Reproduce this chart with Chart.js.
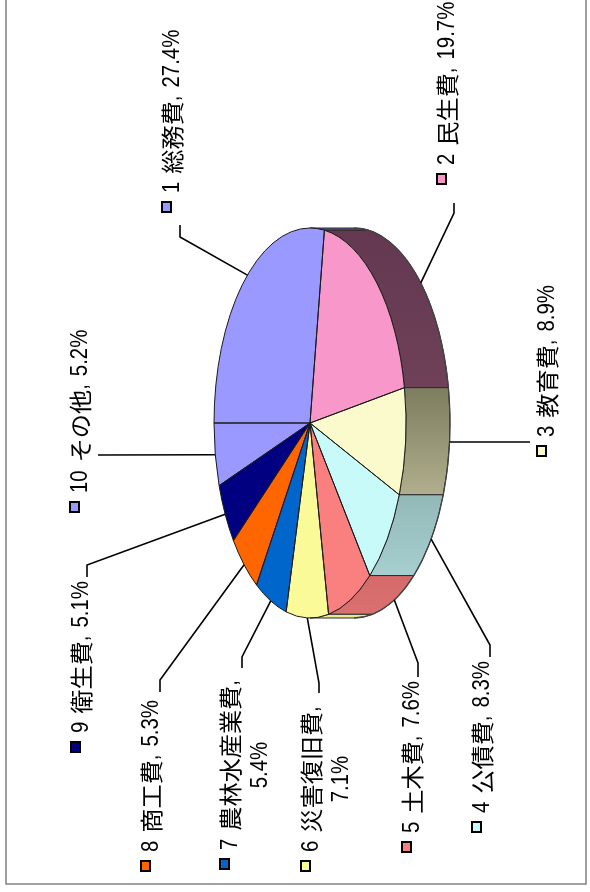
<!DOCTYPE html>
<html><head><meta charset="utf-8">
<script src="https://cdn.jsdelivr.net/npm/chart.js@4/dist/chart.umd.min.js"></script>
<style>html,body{margin:0;padding:0;background:#fff;}canvas{display:block;}</style>
</head><body>
<canvas id="c" width="590" height="892"></canvas>
<script>
// ---- data ----
const numbers = ['1','2','3','4','5','6','7','8','9','10'];
const categories = ['総務費','民生費','教育費','公債費','土木費','災害復旧費','農林水産業費','商工費','衛生費','その他'];
const shares = [27.4, 19.7, 8.9, 8.3, 7.6, 7.1, 5.4, 5.3, 5.1, 5.2];
const twoLine = [false,false,false,false,false,true,true,false,false,false];

// ---- styles ----
const faceColors = ['#9999FF','#F898CA','#FAFACC','#C8FAFA','#FA8080','#FAFA98','#0066CC','#FF6600','#000080','#9999FF'];
const sideTop    = ['#5c5c99','#633850','#7d7d5f','#93b8b8','#d66a6a','#e8e68a','#004080','#c05000','#000050','#5c5c99'];
const sideBottom = ['#5c5c99','#6f4159','#b0ae8c','#a6cfcf','#da7070','#eceb90','#004080','#c05000','#000050','#5c5c99'];
// label layout (page coords): column centre x, marker bottom y, leader elbow, leader end
const labelLayout = [
  {x:172, y:213, elbow:[180,237], end:[180,225]},
  {x:447, y:185, elbow:[454,213], end:[454,203]},
  {x:547, y:457, elbow:null,      end:[530,442]},
  {x:482, y:833, elbow:[490,645], end:[490,657]},
  {x:412, y:853, elbow:[418,663], end:[418,677]},
  {x:311, y:872, elbow:[319,683], end:[319,693]},
  {x:230, y:870, elbow:[242,657], end:[242,668]},
  {x:151, y:872, elbow:[160,680], end:[160,692]},
  {x:81,  y:753, elbow:[87,565],  end:[87,577]},
  {x:80,  y:513, elbow:null,      end:[98,455]}
];
const SQUASH = 96/195;   // ellipse x/y ratio
const DEPTH = 44;         // thickness of the pie side
const FONT_LAT = '24px "Liberation Sans", sans-serif';
const FONT_CJK = '23px "Noto Sans CJK JP", sans-serif';
const SX_LAT = 0.85, SX_CJK = 1.05, SPACE_W = 8;

function labelText(i){
  const pct = shares[i].toFixed(1) + '%';
  if (twoLine[i]) return [numbers[i] + ' ' + categories[i] + ',', pct];
  return [numbers[i] + ' ' + categories[i] + ', ' + pct];
}
function segs(text){
  const out = [];
  for (const ch of text){
    const kind = ch === ' ' ? 'sp' : (ch.codePointAt(0) > 0x2E7F ? 'cjk' : 'lat');
    if (out.length && out[out.length-1].kind === kind) out[out.length-1].t += ch;
    else out.push({t: ch, kind});
  }
  return out;
}
function runWidth(ctx, s){
  if (s.kind === 'sp') return SPACE_W * s.t.length;
  ctx.font = s.kind === 'cjk' ? FONT_CJK : FONT_LAT;
  return ctx.measureText(s.t).width * (s.kind === 'cjk' ? SX_CJK : SX_LAT);
}
function textWidth(ctx, text){ return segs(text).reduce((a, s) => a + runWidth(ctx, s), 0); }
function drawMixed(ctx, text, x, y){
  let px = x;
  for (const s of segs(text)){
    const w = runWidth(ctx, s);
    if (s.kind !== 'sp') {
      ctx.save();
      ctx.translate(px, y); ctx.scale(s.kind === 'cjk' ? SX_CJK : SX_LAT, 1);
      ctx.fillText(s.t, 0, 0);
      ctx.restore();
    }
    px += w;
  }
}

const pie3d = {
  id: 'pie3d',
  beforeDatasetsDraw(chart){
    const ctx = chart.ctx;
    const meta = chart.getDatasetMeta(0);
    const a0 = meta.data[0];
    const cx = a0.x, cy = a0.y, R = a0.outerRadius;
    const rx = R*SQUASH, ry = R;
    const vis0 = 1.5*Math.PI, vis1 = 2.5*Math.PI;
    meta.data.forEach((arc, i) => {
      const s = Math.max(arc.startAngle, vis0), e = Math.min(arc.endAngle, vis1);
      if (e <= s) return;
      const yt = cy + ry*Math.sin(s), yb = cy + ry*Math.sin(e);
      const g = ctx.createLinearGradient(0, yt, 0, Math.max(yb, yt+1));
      g.addColorStop(0, sideTop[i]); g.addColorStop(1, sideBottom[i]);
      ctx.beginPath();
      ctx.ellipse(cx, cy, rx, ry, 0, s, e, false);
      ctx.ellipse(cx+DEPTH, cy, rx, ry, 0, e, s, true);
      ctx.closePath();
      ctx.fillStyle = g; ctx.fill();
      ctx.strokeStyle = '#2a2a2a'; ctx.lineWidth = 1; ctx.stroke();
    });
    ctx.save();
    ctx.translate(cx, cy); ctx.scale(SQUASH, 1); ctx.translate(-cx, -cy);
  },
  afterDatasetsDraw(chart){
    const ctx = chart.ctx;
    ctx.restore();
    const meta = chart.getDatasetMeta(0);
    const a0 = meta.data[0];
    const cx = a0.x, cy = a0.y, R = a0.outerRadius;
    const rx = R*SQUASH, ry = R;
    // slice outlines
    ctx.strokeStyle = '#1a1a1a'; ctx.lineWidth = 1;
    meta.data.forEach(arc => {
      ctx.beginPath();
      ctx.moveTo(cx, cy);
      ctx.ellipse(cx, cy, rx, ry, 0, arc.startAngle, arc.endAngle, false);
      ctx.closePath();
      ctx.stroke();
    });
    // outer silhouette of the side
    ctx.strokeStyle = '#444'; ctx.lineWidth = 1.3;
    ctx.beginPath();
    ctx.ellipse(cx+DEPTH, cy, rx, ry, 0, 1.5*Math.PI, 2.5*Math.PI, false);
    ctx.stroke();
    // leader lines + labels
    meta.data.forEach((arc, i) => {
      const L = labelLayout[i];
      const mid = (arc.startAngle + arc.endAngle)/2;
      const c = Math.cos(mid);
      const px = cx + rx*c + (c > 0 ? DEPTH : 0), py = cy + ry*Math.sin(mid);
      ctx.strokeStyle = '#000'; ctx.lineWidth = 1.6;
      ctx.beginPath();
      ctx.moveTo(px, py);
      if (L.elbow) ctx.lineTo(L.elbow[0], L.elbow[1]);
      ctx.lineTo(L.end[0], L.end[1]);
      ctx.stroke();
      // label, rotated so that it reads bottom-to-top
      const lines = labelText(i);
      ctx.save();
      ctx.translate(L.x, L.y);
      ctx.rotate(-Math.PI/2);
      // legend key
      ctx.fillStyle = '#000';
      ctx.fillRect(0, -11, 12, 11);
      ctx.fillStyle = faceColors[i];
      ctx.fillRect(2, -9, 8, 7);
      ctx.fillStyle = '#000';
      ctx.textBaseline = 'middle';
      ctx.textAlign = 'left';
      const x0 = 20;
      const w1 = textWidth(ctx, lines[0]);
      drawMixed(ctx, lines[0], x0, 0);
      if (lines[1]) {
        const w2 = textWidth(ctx, lines[1]);
        drawMixed(ctx, lines[1], x0 + (w1 - w2)/2, 30);
      }
      ctx.restore();
    });
  },
  afterDraw(chart){
    const ctx = chart.ctx;
    ctx.strokeStyle = '#808080'; ctx.lineWidth = 1.5;
    ctx.strokeRect(6, -2, 580, 886);
  }
};

new Chart(document.getElementById('c').getContext('2d'), {
  type: 'pie',
  data: { labels: categories, datasets: [{ data: shares, backgroundColor: faceColors, borderWidth: 0, clip: false }] },
  options: {
    responsive: false, animation: false, events: [],
    rotation: 270,
    layout: { padding: { left: 115, top: 228, right: 85, bottom: 274 } },
    plugins: { legend: { display: false }, tooltip: { enabled: false } }
  },
  plugins: [pie3d]
});
</script>
</body></html>
